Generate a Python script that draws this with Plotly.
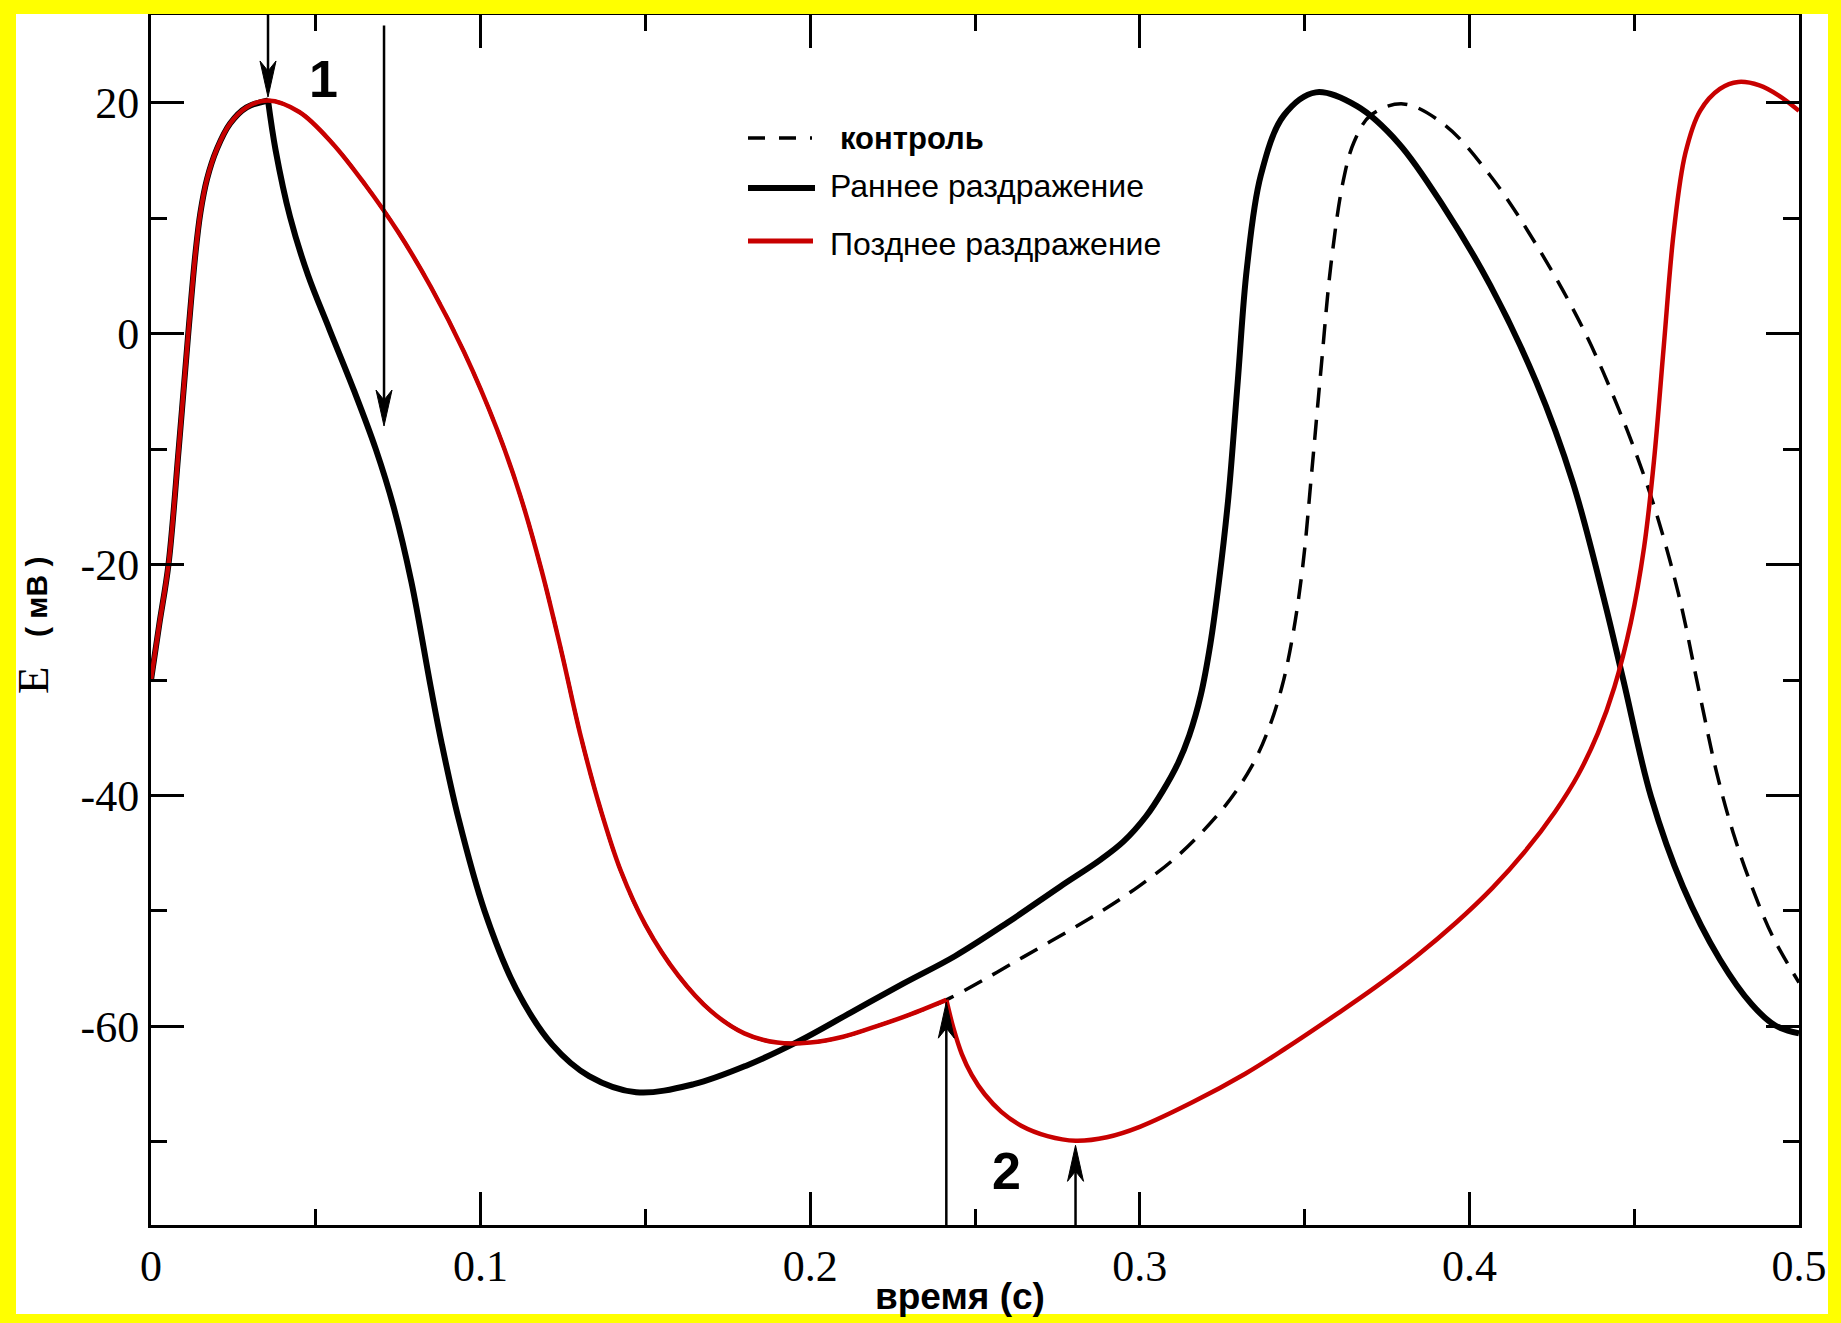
import plotly.graph_objects as go

# ---- membrane potential traces: time in s, potential in mV ----
# common upstroke of the action potential (all three runs coincide here)
t_upstroke = [0.0, 0.0025, 0.0053, 0.0084, 0.0113, 0.0135, 0.0150, 0.0170, 0.0200, 0.0240, 0.0290, 0.0355]
v_upstroke = [-30.0, -25.2, -20.0, -10.0, 0.0, 7.0, 10.5, 13.4, 16.0, 18.2, 19.6, 20.2]

# control repolarisation, shared with the late-stimulus run until it is applied
t_repol = [0.0355, 0.0450, 0.0550, 0.0650, 0.0750, 0.0850, 0.0950, 0.1050, 0.1120, 0.1185,
           0.1245, 0.1305, 0.1365, 0.1425, 0.1500, 0.1600, 0.1700, 0.1800, 0.1900, 0.2000,
           0.2100, 0.2200, 0.2300, 0.2413]
v_repol = [20.2, 19.2, 16.5, 12.9, 8.8, 4.0, -1.6, -8.3, -14.0, -20.5,
           -27.5, -35.0, -41.3, -46.5, -51.2, -55.6, -58.7, -60.6, -61.4, -61.4,
           -60.9, -60.0, -59.0, -57.7]

# control run after t = 0.2413 s
t_control = [0.2413, 0.2646, 0.2879, 0.3000, 0.3120, 0.3256, 0.3339, 0.3390, 0.3432, 0.3465,
             0.3495, 0.3520, 0.3550, 0.3580, 0.3617, 0.3650, 0.3700, 0.3799, 0.3924, 0.4063,
             0.4203, 0.4342, 0.4454, 0.4551, 0.4634, 0.4697, 0.4750, 0.4800, 0.4857, 0.4920,
             0.5000]
v_control = [-57.7, -54.0, -50.1, -47.8, -45.1, -41.0, -37.5, -34.3, -30.5, -26.0,
             -20.0, -12.5, -3.0, 6.0, 13.2, 16.6, 18.9, 19.9, 18.1, 13.7,
             7.7, 0.6, -6.6, -14.1, -22.5, -31.0, -38.0, -43.2, -47.9, -52.2,
             -56.2]

# early stimulus: repolarisation forced right after the peak
t_early = [0.0355, 0.0378, 0.0422, 0.0476, 0.0541, 0.0617, 0.0682, 0.0736, 0.0790, 0.0848,
           0.0882, 0.0933, 0.1012, 0.1107, 0.1218, 0.1329, 0.1472, 0.1647, 0.1806, 0.1964,
           0.2123, 0.2282, 0.2440, 0.2599, 0.2758, 0.2879, 0.2950, 0.3019, 0.3070, 0.3116,
           0.3150, 0.3185, 0.3214, 0.3240, 0.3269, 0.3297, 0.3325, 0.3367, 0.3437, 0.3534,
           0.3659, 0.3785, 0.3924, 0.4063, 0.4203, 0.4314, 0.4411, 0.4467, 0.4551, 0.4648,
           0.4760, 0.4857, 0.4927, 0.5000]
v_early = [20.2, 15.9, 10.1, 5.1, 0.4, -5.0, -10.0, -15.0, -21.5, -30.5,
           -35.5, -42.0, -50.0, -56.7, -61.6, -64.3, -65.7, -65.0, -63.4, -61.3,
           -58.8, -56.3, -53.9, -51.0, -47.9, -45.6, -44.0, -41.8, -39.6, -37.2,
           -34.8, -31.3, -26.9, -21.5, -14.1, -4.2, 5.7, 13.7, 18.9, 20.9,
           19.7, 16.5, 10.9, 4.2, -4.2, -12.9, -23.3, -30.0, -40.1, -47.9,
           -54.2, -58.1, -59.9, -60.6]

# late stimulus: hyperpolarising kick at t = 0.2413 s
t_late = [0.2413, 0.2435, 0.2460, 0.2490, 0.2530, 0.2580, 0.2640, 0.2720, 0.2805, 0.2900,
          0.3000, 0.3158, 0.3320, 0.3437, 0.3594, 0.3715, 0.3840, 0.3960, 0.4070, 0.4170,
          0.4260, 0.4330, 0.4390, 0.4440, 0.4490, 0.4530, 0.4560, 0.4590, 0.4620, 0.4655,
          0.4700, 0.4760, 0.4816, 0.4880, 0.4940, 0.5000]
v_late = [-57.7, -60.2, -62.4, -64.2, -65.9, -67.4, -68.6, -69.5, -69.9, -69.6,
          -68.7, -66.6, -64.1, -62.0, -59.0, -56.6, -53.9, -51.0, -48.0, -44.8,
          -41.4, -38.2, -34.6, -30.6, -25.0, -18.5, -11.0, -1.0, 8.8, 15.6,
          19.3, 21.2, 21.8, 21.5, 20.6, 19.3]

# stimulus markers: time, start of the arrow, arrow tip (mV)
arrow_t = [0.0355, 0.0707, 0.2413, 0.2805]
arrow_base = [27.6, 26.7, -77.2, -77.2]
arrow_tip = [20.5, -8.0, -57.9, -70.3]

# numbered stimulus labels
label_text = ["1", "2"]
label_t = [0.0522, 0.2597]
label_v = [22.1, -72.5]

# axes
x_range = [0.0, 0.5]
y_range = [-77.2, 27.6]
y_tickvals = [-60, -40, -20, 0, 20]
y_ticktext = ["-60", "-40", "-20", "0", "20"]

series_names = ["контроль", "Раннее раздражение", "Позднее раздражение"]

# ---- page geometry (px) ----
W, H = 1841, 1323
ML, MR, MT, MB = 151, 42, 15, 98
PW, PH = W - ML - MR, H - MT - MB
px_per_s = PW / (x_range[1] - x_range[0])
px_per_mv = PH / (y_range[1] - y_range[0])

RED = "#c80000"
SMOOTH = 1.0

fig = go.Figure()

# control (dashed)
fig.add_trace(go.Scatter(
    x=t_upstroke + t_repol[1:] + t_control[1:],
    y=v_upstroke + v_repol[1:] + v_control[1:],
    mode="lines", name=series_names[0], showlegend=False, hoverinfo="skip",
    line=dict(color="black", width=3.5, dash="20px,12px", shape="spline", smoothing=SMOOTH)))

# early stimulus (thick black)
fig.add_trace(go.Scatter(
    x=t_upstroke, y=v_upstroke, mode="lines", name=series_names[1], showlegend=False,
    hoverinfo="skip", line=dict(color="black", width=6, shape="spline", smoothing=SMOOTH)))
fig.add_trace(go.Scatter(
    x=t_early, y=v_early, mode="lines", name=series_names[1], showlegend=False,
    hoverinfo="skip", line=dict(color="black", width=6, shape="spline", smoothing=SMOOTH)))

# late stimulus (red)
fig.add_trace(go.Scatter(
    x=t_upstroke + t_repol[1:], y=v_upstroke + v_repol[1:], mode="lines",
    name=series_names[2], showlegend=False, hoverinfo="skip",
    line=dict(color=RED, width=4.5, shape="spline", smoothing=SMOOTH)))
fig.add_trace(go.Scatter(
    x=t_late, y=v_late, mode="lines", name=series_names[2], showlegend=False,
    hoverinfo="skip", line=dict(color=RED, width=4.5, shape="spline", smoothing=SMOOTH)))

# stimulus arrows: shaft plus a notched, filled head
HEAD_LEN, HEAD_HALF, NOTCH = 36.0, 8.0, 26.0
for t, base, tip in zip(arrow_t, arrow_base, arrow_tip):
    d = 1.0 if tip > base else -1.0
    dx = HEAD_HALF / px_per_s
    back = tip - d * HEAD_LEN / px_per_mv
    notch = tip - d * NOTCH / px_per_mv
    fig.add_trace(go.Scatter(
        x=[t, t], y=[base, notch], mode="lines", showlegend=False, hoverinfo="skip",
        line=dict(color="black", width=2.5)))
    fig.add_trace(go.Scatter(
        x=[t, t - dx, t, t + dx, t], y=[tip, back, notch, back, tip],
        mode="lines", fill="toself", fillcolor="black", showlegend=False,
        hoverinfo="skip", line=dict(color="black", width=1)))

annotations = []
for txt, t, v in zip(label_text, label_t, label_v):
    annotations.append(dict(
        x=t, y=v, xref="x", yref="y", text=f"<b>{txt}</b>", showarrow=False,
        font=dict(family="Liberation Sans", size=52, color="black"),
        xanchor="center", yanchor="middle"))


def px_x(px):
    return (px - ML) / PW


def px_y(py):
    return (H - MB - py) / PH


# hand-placed legend
legend_rows = [
    dict(y=138, x1=812, dash="17px,14px", width=3.5, color="black", tx=838, ty=138,
         text="<b>" + series_names[0] + "</b>", size=31),
    dict(y=188, x1=815, dash="solid", width=6, color="black", tx=828, ty=186,
         text=series_names[1], size=32),
    dict(y=241, x1=813, dash="solid", width=5, color=RED, tx=828, ty=244,
         text=series_names[2], size=32),
]
shapes = []
for row in legend_rows:
    shapes.append(dict(type="line", xref="paper", yref="paper",
                       x0=px_x(748), x1=px_x(row["x1"]), y0=px_y(row["y"]), y1=px_y(row["y"]),
                       line=dict(color=row["color"], width=row["width"], dash=row["dash"])))
    annotations.append(dict(
        x=px_x(row["tx"]), y=px_y(row["ty"]), xref="paper", yref="paper",
        text=row["text"], showarrow=False, xanchor="left", yanchor="middle",
        font=dict(family="Liberation Sans", size=row["size"], color="black")))

# axis titles
annotations.append(dict(
    x=px_x(960), y=px_y(1296), xref="paper", yref="paper", text="<b>время (с)</b>",
    showarrow=False, xanchor="center", yanchor="middle",
    font=dict(family="Liberation Sans", size=37, color="black")))
annotations.append(dict(
    x=px_x(33), y=px_y(680), xref="paper", yref="paper", text="E", textangle=-90,
    showarrow=False, xanchor="center", yanchor="middle",
    font=dict(family="Liberation Serif", size=45, color="black")))
annotations.append(dict(
    x=px_x(36), y=px_y(597), xref="paper", yref="paper", text="<b>( мВ )</b>", textangle=-90,
    showarrow=False, xanchor="center", yanchor="middle",
    font=dict(family="Liberation Sans", size=30, color="black")))

# yellow page frame drawn over everything at the edges
frame = [(0, 0, 16, H), (1828, 0, W, H), (0, 0, W, 14), (0, 1314, W, H)]
for x0, y0, x1, y1 in frame:
    shapes.append(dict(type="rect", xref="paper", yref="paper", layer="above",
                       x0=px_x(x0), x1=px_x(x1), y0=px_y(y1), y1=px_y(y0),
                       fillcolor="#ffff00", line=dict(width=0)))

axis_common = dict(
    showline=True, linecolor="black", linewidth=3, mirror="ticks",
    ticks="inside", tickcolor="black", tickwidth=2.5, ticklen=33,
    showgrid=False, zeroline=False,
    tickfont=dict(family="Liberation Serif", size=44, color="black"),
)

fig.update_xaxes(range=x_range, tick0=0, dtick=0.1, **axis_common,
                 minor=dict(ticks="inside", ticklen=16, tickwidth=2.5, tickcolor="black",
                            dtick=0.05, showgrid=False))
fig.update_yaxes(range=y_range, tickvals=y_tickvals, ticktext=y_ticktext, **axis_common,
                 minor=dict(ticks="inside", ticklen=16, tickwidth=2.5, tickcolor="black",
                            tickvals=[-70, -50, -30, -10, 10], showgrid=False))

fig.update_layout(
    width=W, height=H,
    margin=dict(l=ML, r=MR, t=MT, b=MB, pad=0),
    paper_bgcolor="white", plot_bgcolor="white",
    showlegend=False,
    shapes=shapes, annotations=annotations,
    font=dict(family="Liberation Sans", color="black"),
)

fig.write_html("out.html")
